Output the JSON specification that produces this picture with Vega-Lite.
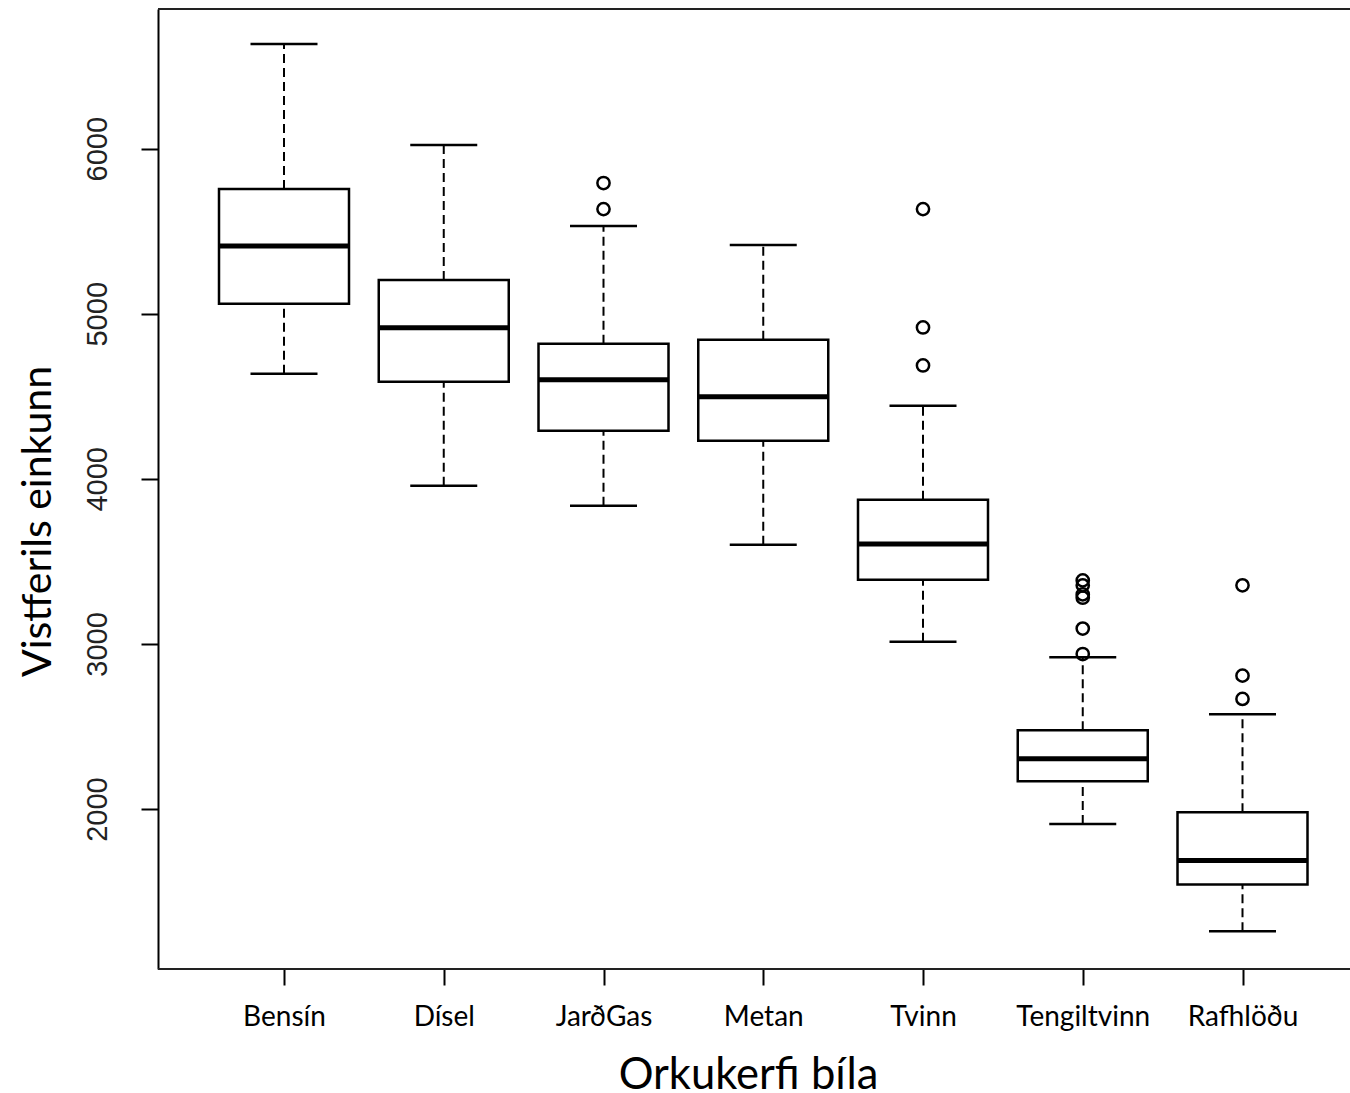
{
  "$schema": "https://vega.github.io/schema/vega-lite/v6.json",
  "width": 1192,
  "height": 960,
  "autosize": {"type": "none"},
  "padding": {"left": 158, "top": 9, "right": 0, "bottom": 124},
  "background": "white",
  "config": {"view": {"stroke": null}},
  "datasets": {
    "stats": [
      {"kerfi": "Bensín", "lower": 4636, "q1": 5060, "median": 5411, "q3": 5756, "upper": 6634},
      {"kerfi": "Dísel", "lower": 3958, "q1": 4588, "median": 4915, "q3": 5205, "upper": 6022},
      {"kerfi": "JarðGas", "lower": 3837, "q1": 4291, "median": 4600, "q3": 4818, "upper": 5532},
      {"kerfi": "Metan", "lower": 3601, "q1": 4231, "median": 4497, "q3": 4842, "upper": 5417},
      {"kerfi": "Tvinn", "lower": 3014, "q1": 3389, "median": 3605, "q3": 3873, "upper": 4443},
      {"kerfi": "Tengiltvinn", "lower": 1910, "q1": 2168, "median": 2304, "q3": 2477, "upper": 2919},
      {"kerfi": "Rafhlöðu", "lower": 1260, "q1": 1543, "median": 1688, "q3": 1981, "upper": 2574}
    ],
    "outliers": [
      {"kerfi": "JarðGas", "v": 5792},
      {"kerfi": "JarðGas", "v": 5634},
      {"kerfi": "Tvinn", "v": 5634},
      {"kerfi": "Tvinn", "v": 4917},
      {"kerfi": "Tvinn", "v": 4687},
      {"kerfi": "Tengiltvinn", "v": 3385},
      {"kerfi": "Tengiltvinn", "v": 3355},
      {"kerfi": "Tengiltvinn", "v": 3300},
      {"kerfi": "Tengiltvinn", "v": 3280},
      {"kerfi": "Tengiltvinn", "v": 3093},
      {"kerfi": "Tengiltvinn", "v": 2939},
      {"kerfi": "Rafhlöðu", "v": 3355},
      {"kerfi": "Rafhlöðu", "v": 2808},
      {"kerfi": "Rafhlöðu", "v": 2667}
    ]
  },
  "encoding": {
    "x": {
      "field": "kerfi",
      "type": "nominal",
      "sort": ["Bensín", "Dísel", "JarðGas", "Metan", "Tvinn", "Tengiltvinn", "Rafhlöðu"],
      "scale": {"type": "point", "range": [126, 1084.5], "padding": 0},
      "axis": {
        "title": "Orkukerfi bíla",
        "titleFont": "Lato",
        "titleFontSize": 43.5,
        "titleFontWeight": "normal",
        "titleColor": "black",
        "titleX": 590,
        "titleY": 119,
        "titleBaseline": "alphabetic",
        "labelFont": "Lato",
        "labelFontSize": 28,
        "labelColor": "black",
        "labelAngle": 0,
        "labelBaseline": "alphabetic",
        "labelPadding": 40,
        "tickSize": 16,
        "tickColor": "black",
        "tickWidth": 2,
        "domain": false,
        "grid": false
      }
    }
  },
  "layer": [
    {
      "data": {"name": "stats"},
      "mark": {"type": "rule", "strokeDash": [9, 5], "strokeWidth": 2, "color": "black"},
      "encoding": {
        "y": {
          "field": "q3", "type": "quantitative", "title": "Vistferils einkunn",
          "scale": {"domain": [1031, 6846], "nice": false, "zero": false},
          "axis": {
            "values": [2000, 3000, 4000, 5000, 6000],
            "format": "d",
            "grid": false,
            "titleFont": "Lato",
            "titleFontSize": 41,
            "titleFontWeight": "normal",
            "titleColor": "black",
            "titleAngle": 270,
            "titleAlign": "center",
            "titleBaseline": "alphabetic",
            "titleX": -108,
            "titleY": 512,
            "labelFont": "Liberation Sans",
            "labelFontSize": 29,
            "labelColor": "#222222",
            "labelAngle": 270,
            "labelAlign": "center",
            "labelBaseline": "middle",
            "labelPadding": 44,
            "tickSize": 17,
            "tickColor": "black",
            "tickWidth": 2,
            "domainColor": "black",
            "domainWidth": 2
          }
        },
        "y2": {"field": "upper"}
      }
    },
    {
      "data": {"name": "stats"},
      "mark": {"type": "rule", "strokeDash": [9, 5], "strokeWidth": 2, "color": "black"},
      "encoding": {
        "y": {"field": "lower", "type": "quantitative", "title": "Vistferils einkunn", "scale": {"domain": [1031, 6846], "nice": false, "zero": false}},
        "y2": {"field": "q1"}
      }
    },
    {
      "data": {"name": "stats"},
      "mark": {"type": "bar", "size": 130, "fill": "white", "stroke": "black", "strokeWidth": 2.5},
      "encoding": {
        "y": {"field": "q1", "type": "quantitative", "title": "Vistferils einkunn", "scale": {"domain": [1031, 6846], "nice": false, "zero": false}},
        "y2": {"field": "q3"}
      }
    },
    {
      "data": {"name": "stats"},
      "mark": {"type": "tick", "size": 130, "thickness": 5, "color": "black", "opacity": 1},
      "encoding": {
        "y": {"field": "median", "type": "quantitative", "title": "Vistferils einkunn", "scale": {"domain": [1031, 6846], "nice": false, "zero": false}}
      }
    },
    {
      "data": {"name": "stats"},
      "mark": {"type": "tick", "size": 67, "thickness": 2.5, "color": "black", "opacity": 1},
      "encoding": {
        "y": {"field": "upper", "type": "quantitative", "title": "Vistferils einkunn", "scale": {"domain": [1031, 6846], "nice": false, "zero": false}}
      }
    },
    {
      "data": {"name": "stats"},
      "mark": {"type": "tick", "size": 67, "thickness": 2.5, "color": "black", "opacity": 1},
      "encoding": {
        "y": {"field": "lower", "type": "quantitative", "title": "Vistferils einkunn", "scale": {"domain": [1031, 6846], "nice": false, "zero": false}}
      }
    },
    {
      "data": {"name": "outliers"},
      "mark": {"type": "point", "shape": "circle", "filled": false, "size": 150, "stroke": "black", "strokeWidth": 2.5, "opacity": 1},
      "encoding": {
        "y": {"field": "v", "type": "quantitative", "title": "Vistferils einkunn", "scale": {"domain": [1031, 6846], "nice": false, "zero": false}}
      }
    },
    {
      "data": {"values": [{"edge": 6846}, {"edge": 1031}]},
      "mark": {"type": "rule", "color": "#222222", "strokeWidth": 2.2},
      "encoding": {
        "x": null,
        "y": {"field": "edge", "type": "quantitative", "title": "Vistferils einkunn", "scale": {"domain": [1031, 6846], "nice": false, "zero": false}}
      }
    }
  ]
}
